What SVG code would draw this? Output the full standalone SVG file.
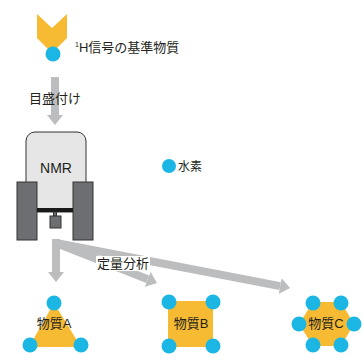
<svg xmlns="http://www.w3.org/2000/svg" width="363" height="355" viewBox="0 0 363 355">
  <defs>
    <style>
      .t { font-family: "Liberation Sans", "Noto Sans CJK JP", sans-serif; fill: #231f20; }
      .h { fill: #1bb6e4; }
      .y { fill: #f6ba33; }
      .flow { stroke: #bcbdbf; stroke-width: 8; fill: none; }
      .body { fill: #e6e6e6; stroke: #333; stroke-width: 1; }
      .block { fill: #6d6e71; stroke: #333; stroke-width: 1; }
    </style>
    <marker id="head" markerUnits="userSpaceOnUse" markerWidth="10" markerHeight="16" refX="0" refY="8" orient="auto" viewBox="0 0 10 16">
      <path d="M0,0 L10,8 L0,16 z" fill="#bcbdbf"/>
    </marker>
  </defs>

  <!-- connectors -->
  <g id="connectors">
    <line class="flow" x1="55" y1="77" x2="55" y2="115" marker-end="url(#head)"/>
    <line class="flow" x1="56" y1="239" x2="56" y2="272" marker-end="url(#head)"/>
    <line class="flow" x1="56" y1="243" x2="147.7" y2="279.3" marker-end="url(#head)"/>
    <line class="flow" x1="56" y1="243" x2="280.2" y2="286.1" marker-end="url(#head)"/>
    <text class="t" x="29" y="103" font-size="13">目盛付け</text>
    <rect x="96" y="256" width="54" height="15" fill="#fff"/>
    <text class="t" x="97" y="268" font-size="13">定量分析</text>
  </g>

  <!-- reference compound -->
  <g id="reference">
    <path class="y" d="M37,14 L52,28 L67,14 L67,38 L52,53 L37,38 z"/>
    <circle class="h" cx="53" cy="54" r="7.5"/>
    <text class="t" x="75" y="52" font-size="13"><tspan font-size="7" dy="-5">1</tspan><tspan dy="5">H信号の基準物質</tspan></text>
  </g>

  <!-- spectrometer -->
  <g id="nmr">
    <rect class="body" x="26" y="132" width="60" height="80" rx="9"/>
    <rect class="block" x="17" y="182" width="20" height="58"/>
    <rect class="block" x="73" y="182" width="20" height="58"/>
    <rect x="37" y="208" width="36" height="4" fill="#1a1a1a"/>
    <rect class="block" x="53.5" y="212" width="3" height="4"/>
    <rect class="block" x="50" y="216" width="11" height="12"/>
    <text class="t" x="56" y="173" font-size="14" text-anchor="middle">NMR</text>
  </g>

  <!-- legend -->
  <g id="legend">
    <circle class="h" cx="169" cy="166" r="7"/>
    <text class="t" x="178" y="171" font-size="12">水素</text>
  </g>

  <!-- compound A -->
  <g id="compound-a">
    <polygon class="y" points="54,303 29,347 81,347"/>
    <circle class="h" cx="54" cy="303" r="7.5"/>
    <circle class="h" cx="30" cy="345" r="7.5"/>
    <circle class="h" cx="81" cy="345" r="7.5"/>
    <text class="t" x="54" y="328" font-size="13" text-anchor="middle">物質A</text>
  </g>

  <!-- compound B -->
  <g id="compound-b">
    <rect class="y" x="168" y="301" width="45" height="46"/>
    <circle class="h" cx="169" cy="302" r="7.5"/>
    <circle class="h" cx="213" cy="302" r="7.5"/>
    <circle class="h" cx="169" cy="346" r="7.5"/>
    <circle class="h" cx="213" cy="346" r="7.5"/>
    <text class="t" x="191" y="328" font-size="13" text-anchor="middle">物質B</text>
  </g>

  <!-- compound C -->
  <g id="compound-c">
    <polygon class="y" points="313,302 341,302 354,324 341,346 313,346 299,324"/>
    <circle class="h" cx="313" cy="303" r="7.5"/>
    <circle class="h" cx="341" cy="303" r="7.5"/>
    <circle class="h" cx="299" cy="324" r="7.5"/>
    <circle class="h" cx="354" cy="324" r="7.5"/>
    <circle class="h" cx="313" cy="345" r="7.5"/>
    <circle class="h" cx="341" cy="345" r="7.5"/>
    <text class="t" x="326" y="328" font-size="13" text-anchor="middle">物質C</text>
  </g>
</svg>
